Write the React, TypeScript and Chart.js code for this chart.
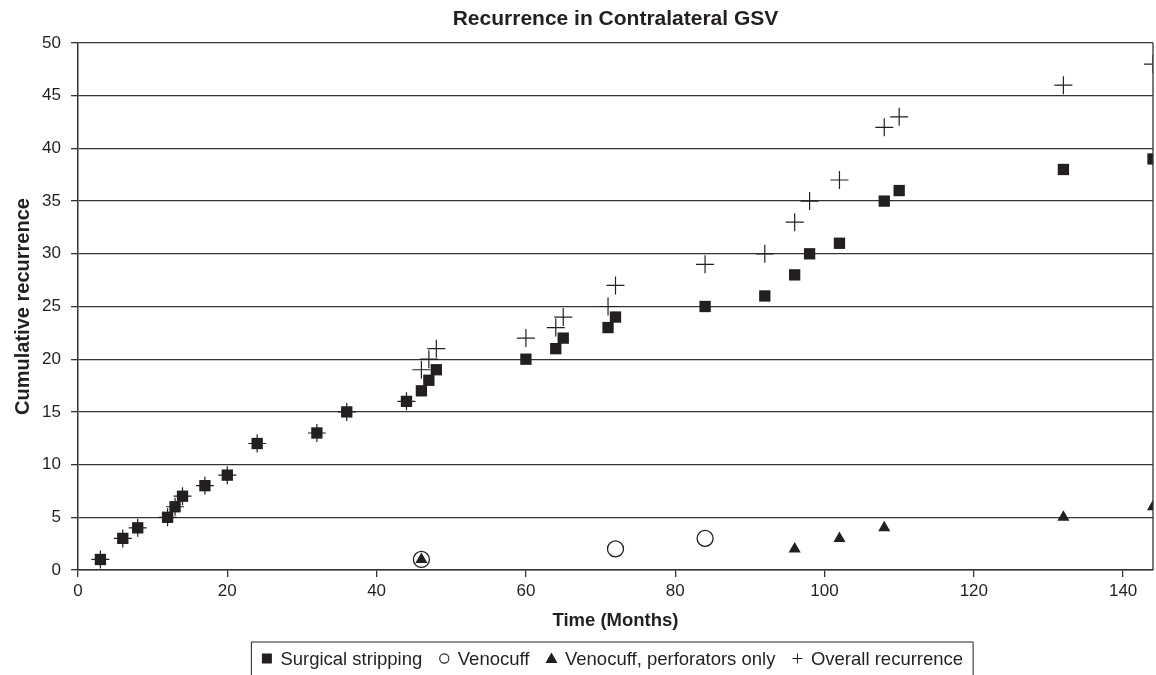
import React, { useEffect, useRef } from "react";
import { Chart, registerables } from "chart.js";

Chart.register(...registerables);

const chartTitle = "Recurrence in Contralateral GSV";
const xTitle = "Time (Months)";
const yTitle = "Cumulative recurrence";

const strippingMonths = [3, 6, 8, 12, 13, 14, 17, 20, 24, 32, 36, 44, 46, 47, 48, 60, 64, 65, 71, 72, 84, 92, 96, 98, 102, 108, 110, 132, 144];
const strippingValues = [1, 3, 4, 5, 6, 7, 8, 9, 12, 13, 15, 16, 17, 18, 19, 20, 21, 22, 23, 24, 25, 26, 28, 30, 31, 35, 36, 38, 39];

const venocuffMonths = [46, 72, 84];
const venocuffValues = [1, 2, 3];

const perforatorMonths = [46, 96, 102, 108, 132, 144];
const perforatorValues = [1, 2, 3, 4, 5, 6];

const overallMonths = [3, 6, 8, 12, 13, 14, 17, 20, 24, 32, 36, 44, 46, 47, 48, 60, 64, 65, 71, 72, 84, 92, 96, 98, 102, 108, 110, 132, 144];
const overallValues = [1, 3, 4, 5, 6, 7, 8, 9, 12, 13, 15, 16, 19, 20, 21, 22, 23, 24, 25, 27, 29, 30, 33, 35, 37, 42, 43, 46, 48];

const seriesLabels = ["Surgical stripping", "Venocuff", "Venocuff, perforators only", "Overall recurrence"];
const seriesStyles = ["rect", "circle", "triangle", "cross"];

const INK = "#231f20";
const GRID = "#333333";
const FONT = "'Liberation Sans', Arial, Helvetica, sans-serif";

const toPoints = (xs: number[], ys: number[]) => xs.map((x, i) => ({ x, y: ys[i] }));

function drawLegendMarker(ctx: CanvasRenderingContext2D, style: string, cx: number, cy: number) {
  ctx.save();
  ctx.fillStyle = INK;
  ctx.strokeStyle = INK;
  ctx.beginPath();
  if (style === "rect") {
    ctx.fillRect(cx - 5, cy - 5, 10, 10);
  } else if (style === "circle") {
    ctx.lineWidth = 1.1;
    ctx.arc(cx, cy, 4.6, 0, Math.PI * 2);
    ctx.stroke();
  } else if (style === "triangle") {
    ctx.moveTo(cx, cy - 6);
    ctx.lineTo(cx + 6, cy + 4.5);
    ctx.lineTo(cx - 6, cy + 4.5);
    ctx.closePath();
    ctx.fill();
  } else {
    ctx.lineWidth = 1;
    ctx.moveTo(cx - 5, cy);
    ctx.lineTo(cx + 5, cy);
    ctx.moveTo(cx, cy - 5);
    ctx.lineTo(cx, cy + 5);
    ctx.stroke();
  }
  ctx.restore();
}

const framePlugin = {
  id: "frame",
  afterDraw(chart: any) {
    const ctx: CanvasRenderingContext2D = chart.ctx;
    const a = chart.chartArea;
    ctx.save();
    // right border of plot
    ctx.strokeStyle = GRID;
    ctx.lineWidth = 1.3;
    ctx.beginPath();
    ctx.moveTo(a.right, a.top);
    ctx.lineTo(a.right, a.bottom);
    ctx.stroke();

    // legend
    ctx.font = `18.5px ${FONT}`;
    const markerToText = 13.5;
    const itemGap = 17;
    const widths = seriesLabels.map((t) => 5 + markerToText + ctx.measureText(t).width);
    const total = widths.reduce((s, w) => s + w, 0) + itemGap * (widths.length - 1);
    const center = (a.left + a.right) / 2 - 3;
    const start = center - total / 2;
    const cy = 658.5;
    let x = start;
    ctx.textBaseline = "middle";
    ctx.textAlign = "left";
    seriesLabels.forEach((label, i) => {
      drawLegendMarker(ctx, seriesStyles[i], x + 5, cy);
      ctx.fillStyle = INK;
      ctx.fillText(label, x + 5 + markerToText, cy + 1);
      x += widths[i] + itemGap;
    });
    const right = start + total + 10;
    const left = start - 10.5;
    ctx.strokeStyle = INK;
    ctx.lineWidth = 1;
    ctx.beginPath();
    ctx.moveTo(left, chart.height + 2);
    ctx.lineTo(left, 642);
    ctx.lineTo(right, 642);
    ctx.lineTo(right, chart.height + 2);
    ctx.stroke();
    ctx.restore();
  },
};

export default function App() {
  const ref = useRef<HTMLCanvasElement | null>(null);

  useEffect(() => {
    if (!ref.current) return;
    const chart = new Chart(ref.current, {
      type: "scatter",
      data: {
        datasets: [
          {
            label: seriesLabels[0],
            data: toPoints(strippingMonths, strippingValues),
            pointStyle: "rect",
            pointRadius: 8,
            backgroundColor: INK,
            borderColor: INK,
            borderWidth: 0,
            clip: 0,
          },
          {
            label: seriesLabels[1],
            data: toPoints(venocuffMonths, venocuffValues),
            pointStyle: "circle",
            pointRadius: 8,
            backgroundColor: "rgba(0,0,0,0)",
            borderColor: INK,
            borderWidth: 1.3,
            clip: 0,
          },
          {
            label: seriesLabels[2],
            data: toPoints(perforatorMonths, perforatorValues),
            pointStyle: "triangle",
            pointRadius: 7,
            backgroundColor: INK,
            borderColor: INK,
            borderWidth: 0,
            clip: 0,
          },
          {
            label: seriesLabels[3],
            data: toPoints(overallMonths, overallValues),
            pointStyle: "cross",
            pointRadius: 9,
            backgroundColor: INK,
            borderColor: INK,
            borderWidth: 1.2,
            clip: 0,
          },
        ],
      },
      options: {
        animation: false,
        responsive: false,
        devicePixelRatio: 1,
        layout: { autoPadding: false, padding: { top: 0, left: 0, right: 3, bottom: 40 } },
        plugins: {
          tooltip: { enabled: false },
          legend: { display: false },
          title: {
            display: true,
            text: chartTitle,
            fullSize: false,
            color: INK,
            font: { family: FONT, size: 21, weight: "bold" },
            padding: { top: 7, bottom: 10.8 },
          },
        },
        scales: {
          x: {
            type: "linear",
            min: 0,
            max: 144,
            afterFit: (s: any) => {
              s.height = 65;
              s.paddingRight = 0;
              s.paddingLeft = 0;
            },
            ticks: {
              stepSize: 20,
              includeBounds: false,
              color: INK,
              padding: 4,
              maxRotation: 0,
              font: { family: FONT, size: 17 },
            },
            grid: {
              drawOnChartArea: false,
              drawTicks: true,
              tickLength: 7,
              color: GRID,
              lineWidth: 1.3,
            },
            border: { display: true, color: GRID, width: 1.5 },
            title: {
              display: true,
              text: xTitle,
              color: INK,
              font: { family: FONT, size: 18.5, weight: "bold" },
              padding: { top: 0, bottom: 3 },
            },
          },
          y: {
            type: "linear",
            min: 0,
            max: 50,
            afterFit: (s: any) => {
              s.width = 78;
            },
            ticks: {
              stepSize: 5,
              color: INK,
              padding: 10,
              font: { family: FONT, size: 17 },
            },
            grid: {
              drawOnChartArea: true,
              drawTicks: true,
              tickLength: 7,
              color: GRID,
              lineWidth: 1.3,
            },
            border: { display: true, color: GRID, width: 1.5 },
            title: {
              display: true,
              text: yTitle,
              color: INK,
              font: { family: FONT, size: 20, weight: "bold" },
              padding: { top: 11, bottom: 0 },
            },
          },
        },
      },
      plugins: [framePlugin],
    });
    return () => chart.destroy();
  }, []);

  return (
    <div style={{ position: "fixed", left: 0, top: 0, width: 1156, height: 675, background: "#fff" }}>
      <canvas ref={ref} width={1156} height={675} style={{ width: 1156, height: 675, display: "block" }} />
    </div>
  );
}
